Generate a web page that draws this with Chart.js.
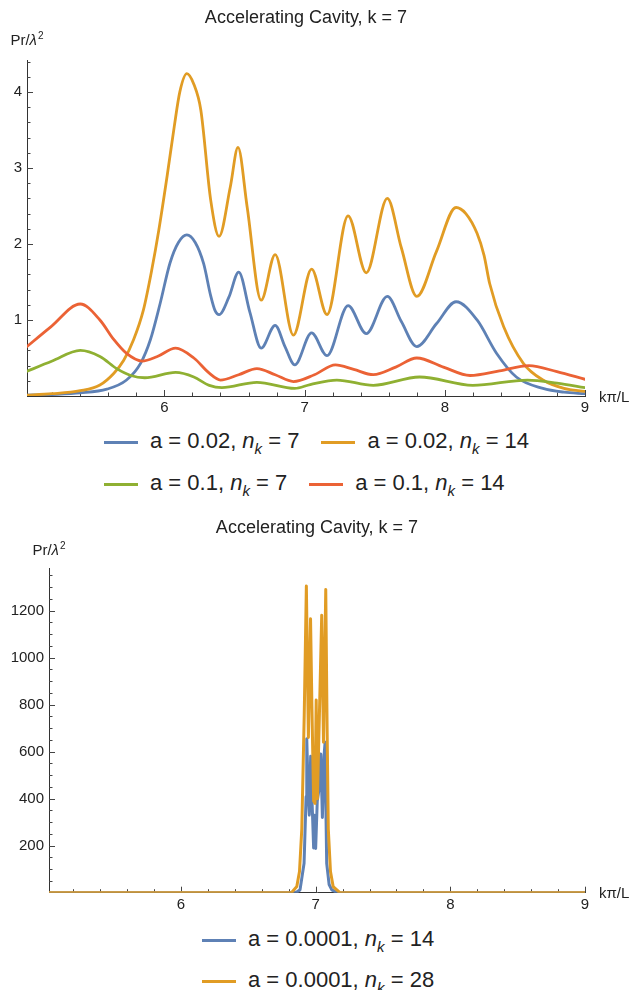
<!DOCTYPE html>
<html>
<head>
<meta charset="utf-8">
<script src="https://cdn.jsdelivr.net/npm/chart.js@4.4.1/dist/chart.umd.min.js"></script>
<style>
  body { margin: 0; background: #fff; font-family: "Liberation Sans", Arial, sans-serif; color: #222; }
  #page { position: relative; width: 631px; height: 990px; overflow: hidden; }
  .plot { position: absolute; left: 0; }
  .legend { position: absolute; font-size: 22px; white-space: nowrap; }
  .row { position: absolute; left: 0; height: 26px; display: flex; align-items: center; }
  .item { display: flex; align-items: center; margin-right: 22px; }
  .swatch { width: 34px; height: 3px; margin-right: 12px; }
  .item sub { font-size: 15px; position: relative; top: 1px; }
</style>
</head>
<body>
<div id="page">
  <div class="plot" style="top:0"><canvas id="topChart" width="631" height="420"></canvas></div>
  <div class="legend" id="topLegend" style="left:104px; top:0"></div>
  <div class="plot" style="top:510px"><canvas id="bottomChart" width="631" height="410"></canvas></div>
  <div class="legend" id="bottomLegend" style="left:202px; top:0"></div>
</div>
<script>
// ---- top plot: a = 0.02 / 0.1, n_k = 7 / 14 ----
const blueX = [5.00, 5.20, 5.40, 5.59, 5.73, 5.83, 5.90, 5.97, 6.04, 6.10, 6.16, 6.22, 6.28, 6.33, 6.36, 6.39, 6.46, 6.53, 6.61, 6.69, 6.79, 6.86, 6.93, 7.05, 7.16, 7.31, 7.44, 7.59, 7.69, 7.80, 7.94, 8.08, 8.23, 8.37, 8.51, 8.70, 8.85, 9.00];
const blueY = [0.01, 0.02, 0.04, 0.09, 0.21, 0.43, 0.74, 1.22, 1.75, 2.02, 2.12, 2.02, 1.74, 1.32, 1.13, 1.07, 1.30, 1.63, 1.10, 0.63, 0.93, 0.65, 0.41, 0.83, 0.53, 1.19, 0.82, 1.31, 0.98, 0.65, 0.95, 1.24, 1.00, 0.56, 0.25, 0.10, 0.05, 0.03];

const orangeX = [5.00, 5.20, 5.40, 5.54, 5.64, 5.71, 5.78, 5.85, 5.91, 5.96, 6.02, 6.07, 6.11, 6.16, 6.21, 6.26, 6.33, 6.39, 6.47, 6.525, 6.59, 6.69, 6.79, 6.92, 7.05, 7.16, 7.31, 7.44, 7.59, 7.69, 7.80, 7.94, 8.08, 8.15, 8.23, 8.28, 8.32, 8.42, 8.56, 8.70, 8.85, 9.00];
const orangeY = [0.01, 0.03, 0.07, 0.145, 0.30, 0.47, 0.74, 1.13, 1.66, 2.18, 2.90, 3.54, 4.00, 4.24, 4.10, 3.76, 2.58, 2.10, 2.75, 3.27, 2.49, 1.26, 1.86, 0.80, 1.67, 1.07, 2.37, 1.62, 2.60, 1.95, 1.31, 1.90, 2.48, 2.40, 2.14, 1.85, 1.48, 0.91, 0.43, 0.21, 0.10, 0.06];

const greenX = [5.00, 5.20, 5.40, 5.54, 5.66, 5.76, 5.86, 6.08, 6.21, 6.32, 6.41, 6.66, 6.93, 7.04, 7.23, 7.49, 7.82, 8.20, 8.59, 8.80, 9.00];
const greenY = [0.31, 0.46, 0.60, 0.52, 0.36, 0.27, 0.24, 0.31, 0.25, 0.14, 0.11, 0.18, 0.10, 0.15, 0.21, 0.14, 0.25, 0.14, 0.21, 0.17, 0.11];

const redX = [5.00, 5.19, 5.40, 5.54, 5.64, 5.73, 5.84, 5.95, 6.08, 6.21, 6.32, 6.40, 6.53, 6.66, 6.79, 6.92, 7.07, 7.22, 7.35, 7.49, 7.65, 7.80, 7.99, 8.18, 8.39, 8.60, 8.80, 9.00];
const redY = [0.62, 0.91, 1.21, 1.00, 0.74, 0.56, 0.46, 0.52, 0.63, 0.50, 0.30, 0.21, 0.28, 0.36, 0.28, 0.19, 0.28, 0.41, 0.35, 0.28, 0.38, 0.50, 0.38, 0.27, 0.33, 0.40, 0.32, 0.22];

// ---- bottom plot: a = 0.0001, n_k = 14 / 28 ----
const thinBlueX = [5.00, 6.80, 6.86, 6.884, 6.914, 6.929, 6.934, 6.945, 6.953, 6.963, 6.975, 6.985, 6.993, 7.000, 7.012, 7.025, 7.038, 7.050, 7.062, 7.070, 7.075, 7.082, 7.100, 7.120, 7.160, 9.00];
const thinBlueY = [0, 0, 3, 12, 125, 408, 655, 420, 330, 580, 360, 190, 330, 188, 390, 440, 590, 320, 580, 640, 400, 125, 35, 12, 0, 0];

const thinOrangeX = [5.00, 6.82, 6.86, 6.88, 6.897, 6.915, 6.931, 6.946, 6.962, 6.972, 6.985, 6.995, 7.004, 7.013, 7.028, 7.045, 7.058, 7.075, 7.085, 7.094, 7.110, 7.130, 7.180, 9.00];
const thinOrangeY = [0, 0, 26, 90, 270, 750, 1305, 660, 1165, 800, 390, 380, 820, 400, 760, 1180, 640, 1290, 700, 270, 90, 26, 0, 0];

const xTickLabels = [6, 7, 8, 9];
const topYTickLabels = [1, 2, 3, 4];
const bottomYTickLabels = [200, 400, 600, 800, 1000, 1200];

const topLegendA = ["0.02", "0.02", "0.1", "0.1"];
const topLegendN = ["7", "14", "7", "14"];
const bottomLegendA = ["0.0001", "0.0001"];
const bottomLegendN = ["14", "28"];

const COLORS = ["#5e81b5", "#e19c24", "#8fb032", "#eb6235"];
const FONT = "'Liberation Sans', Arial, sans-serif";
const TITLE = "Accelerating Cavity, k = 7";

Chart.defaults.font.family = FONT;
Chart.defaults.color = "#222";

const pts = (xs, ys) => xs.map((x, i) => ({ x, y: ys[i] }));
const inList = (list, v) => list.some(t => Math.abs(t - v) < 1e-6);
const labelIf = list => v => (inList(list, v) ? String(Math.round(v)) : "");

// inward ticks + the axis names (Pr/λ² on top, kπ/L on the right)
const axisDecor = {
  id: "axisDecor",
  beforeDatasetsDraw(chart, args, opts) {
    const { ctx, chartArea, scales: { x, y } } = chart;
    ctx.save();
    ctx.strokeStyle = "#444";
    ctx.lineWidth = 1;
    ctx.beginPath();
    x.ticks.forEach(t => {
      const px = Math.round(x.getPixelForValue(t.value)) + 0.5;
      const len = inList(xTickLabels, t.value) ? 6 : 3.5;
      ctx.moveTo(px, chartArea.bottom);
      ctx.lineTo(px, chartArea.bottom - len);
    });
    y.ticks.forEach(t => {
      if (t.value === 0) return;
      const py = Math.round(y.getPixelForValue(t.value)) + 0.5;
      const len = inList(opts.yMajor, t.value) ? 6 : 3.5;
      ctx.moveTo(chartArea.left, py);
      ctx.lineTo(chartArea.left + len, py);
    });
    ctx.stroke();

    ctx.fillStyle = "#222";
    ctx.textBaseline = "alphabetic";
    // y name
    const base = chartArea.top - opts.nameGap;
    ctx.font = "15px " + FONT;
    const w1 = ctx.measureText("Pr/").width;
    ctx.font = "italic 15px " + FONT;
    const w2 = ctx.measureText("λ").width;
    ctx.font = "10px " + FONT;
    const w3 = ctx.measureText("2").width;
    let cx = chartArea.left - (w1 + w2 + w3 + 1) / 2;
    ctx.textAlign = "left";
    ctx.font = "15px " + FONT;
    ctx.fillText("Pr/", cx, base);
    ctx.font = "italic 15px " + FONT;
    ctx.fillText("λ", cx + w1, base);
    ctx.font = "10px " + FONT;
    ctx.fillText("2", cx + w1 + w2 + 1, base - 6);
    // x name
    ctx.font = "15px " + FONT;
    ctx.fillText("kπ/L", chartArea.right + 14, chartArea.bottom + 5.5);
    ctx.restore();
  }
};

function makeChart(id, datasets, cfg) {
  return new Chart(document.getElementById(id), {
    type: "line",
    data: { datasets },
    options: {
      responsive: false,
      animation: false,
      layout: { padding: { right: cfg.padRight } },
      elements: { point: { radius: 0 } },
      plugins: {
        legend: { display: false },
        tooltip: { enabled: false },
        title: {
          display: true,
          fullSize: false,
          text: TITLE,
          color: "#222",
          font: { size: 18, weight: "normal" },
          padding: { top: cfg.titleTop, bottom: cfg.titleBottom }
        },
        axisDecor: { yMajor: cfg.yLabels, nameGap: cfg.nameGap }
      },
      scales: {
        x: {
          type: "linear",
          min: 5.02,
          max: 9,
          ticks: {
            stepSize: 0.2,
            maxTicksLimit: 100,
            includeBounds: false,
            autoSkip: false,
            maxRotation: 0,
            padding: 3,
            font: { size: 15 },
            color: "#222",
            callback: labelIf(xTickLabels)
          },
          grid: { drawOnChartArea: false, drawTicks: false },
          border: { color: "#333", width: 1 },
          afterFit: s => { s.height = cfg.xHeight; }
        },
        y: {
          type: "linear",
          min: 0,
          max: cfg.yMax,
          ticks: {
            stepSize: cfg.yStep,
            maxTicksLimit: 100,
            includeBounds: false,
            autoSkip: false,
            padding: 5,
            font: { size: 15 },
            color: "#222",
            callback: labelIf(cfg.yLabels)
          },
          grid: { drawOnChartArea: false, drawTicks: false },
          border: { color: "#333", width: 1 },
          afterFit: s => { s.width = cfg.yWidth; }
        }
      }
    },
    plugins: [axisDecor]
  });
}

const lineStyle = w => ({ borderWidth: w, pointRadius: 0, borderJoinStyle: "round", borderCapStyle: "round" });

makeChart("topChart", [
  { label: "a = 0.02, n_k = 7", data: pts(blueX, blueY), borderColor: COLORS[0], order: 4, cubicInterpolationMode: "monotone", ...lineStyle(2.8) },
  { label: "a = 0.02, n_k = 14", data: pts(orangeX, orangeY), borderColor: COLORS[1], order: 3, cubicInterpolationMode: "monotone", ...lineStyle(2.8) },
  { label: "a = 0.1, n_k = 7", data: pts(greenX, greenY), borderColor: COLORS[2], order: 2, cubicInterpolationMode: "monotone", ...lineStyle(2.8) },
  { label: "a = 0.1, n_k = 14", data: pts(redX, redY), borderColor: COLORS[3], order: 1, cubicInterpolationMode: "monotone", ...lineStyle(2.8) }
], { padRight: 46, titleTop: 7, titleBottom: 31.4, xHeight: 24, yWidth: 27, yMax: 4.42, yStep: 0.2, yLabels: topYTickLabels, nameGap: 15 });

makeChart("bottomChart", [
  { label: "a = 0.0001, n_k = 14", data: pts(thinBlueX, thinBlueY), borderColor: COLORS[0], order: 2, tension: 0, ...lineStyle(3) },
  { label: "a = 0.0001, n_k = 28", data: pts(thinOrangeX, thinOrangeY), borderColor: COLORS[1], order: 1, tension: 0, ...lineStyle(3) }
], { padRight: 46, titleTop: 7, titleBottom: 29.7, xHeight: 27.3, yWidth: 49, yMax: 1380, yStep: 50, yLabels: bottomYTickLabels, nameGap: 13 });

// ---- HTML legends (italic n with subscript k) ----
function buildLegend(id, aList, nList, perRow, rowCenters) {
  const box = document.getElementById(id);
  for (let r = 0; r < rowCenters.length; r++) {
    const row = document.createElement("div");
    row.className = "row";
    row.style.top = (rowCenters[r] - 13) + "px";
    for (let i = r * perRow; i < Math.min(aList.length, (r + 1) * perRow); i++) {
      const item = document.createElement("div");
      item.className = "item";
      item.innerHTML = `<span class="swatch" style="background:${COLORS[i]}"></span>` +
        `<span>a = ${aList[i]}, <i>n</i><sub><i>k</i></sub> = ${nList[i]}</span>`;
      row.appendChild(item);
    }
    box.appendChild(row);
  }
}

buildLegend("topLegend", topLegendA, topLegendN, 2, [442, 484]);
buildLegend("bottomLegend", bottomLegendA, bottomLegendN, 1, [940, 981]);
</script>
</body>
</html>
